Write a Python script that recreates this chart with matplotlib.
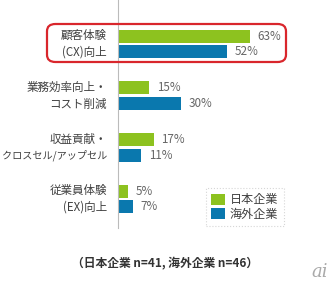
import matplotlib
matplotlib.use("Agg")
import matplotlib.pyplot as plt
from matplotlib.patches import FancyBboxPatch, Patch

plt.rcParams['font.family'] = ['Noto Sans CJK JP', 'DejaVu Sans']

categories = ["顧客体験\n(CX)向上", "業務効率向上・\nコスト削減", "収益貢献・\nクロスセル/アップセル", "従業員体験\n(EX)向上"]
japan = [63, 15, 17, 5]
overseas = [52, 30, 11, 7]
series_names = ["日本企業", "海外企業"]
footer = "（日本企業 n=41, 海外企業 n=46）"

GREEN = "#8DC21F"
BLUE = "#0A78AE"
TEXT = "#404040"

W, H = 336, 290
fig = plt.figure(figsize=(W/100, H/100), dpi=100)
fig.patch.set_facecolor("white")

def fx(px): return px / W
def fy(py): return 1 - py / H

# axes: x from 118px to 330px, y from 0 to 228px
ax = fig.add_axes([fx(118), fy(228), fx(330) - fx(118), fy(0) - fy(228)])
ax.set_xlim(0, (330 - 118) / 2.09)
ax.set_ylim(3.56, -0.85)

pos = list(range(len(categories)))
h = 0.25
off = 0.152
ax.barh([p - off for p in pos], japan, height=h, color=GREEN)
ax.barh([p + off for p in pos], overseas, height=h, color=BLUE)

for p, v in zip(pos, japan):
    ax.annotate(f"{v}%", (v, p - off), xytext=(5.5, 0), textcoords="offset points",
                va="center", ha="left", fontsize=8.4, color="#666666")
for p, v in zip(pos, overseas):
    ax.annotate(f"{v}%", (v, p + off), xytext=(5.5, 0), textcoords="offset points",
                va="center", ha="left", fontsize=8.4, color="#666666")

for p, c in zip(pos, categories):
    lines = c.split("\n")
    for i, line in enumerate(lines):
        dy = 6.0 if i == 0 else -6.0
        fs = 8.3 if len(line) <= 8 else 7.3
        ax.annotate(line, (0, p), xytext=(-8, dy), textcoords="offset points",
                    va="center", ha="right", fontsize=fs, color=TEXT)

for s in ["top", "right", "bottom"]:
    ax.spines[s].set_visible(False)
ax.spines["left"].set_color("#BBBBBB")
ax.spines["left"].set_linewidth(0.8)
ax.set_xticks([])
ax.set_yticks([])
ax.patch.set_alpha(0)

# red highlight box
box = FancyBboxPatch((fx(47), fy(62)), fx(286) - fx(47), fy(24) - fy(62),
                     boxstyle="round,pad=0,rounding_size=0.025",
                     transform=fig.transFigure, fill=False,
                     edgecolor="#D9262C", linewidth=1.6)
fig.patches.append(box)

handles = [Patch(facecolor=GREEN, label=series_names[0]),
           Patch(facecolor=BLUE, label=series_names[1])]
leg = fig.legend(handles=handles, loc="upper left",
                 bbox_to_anchor=(fx(206), fy(188)), frameon=True,
                 fontsize=8.7, handlelength=1.1, handleheight=1.1,
                 handletextpad=0.4, borderpad=0.45, labelspacing=0.1,
                 fancybox=False, borderaxespad=0)
leg.get_frame().set_edgecolor("#CCCCCC")
leg.get_frame().set_linestyle(":")
leg.get_frame().set_linewidth(0.8)
for t in leg.get_texts():
    t.set_color(TEXT)

fig.text(fx(165), fy(264), footer, ha="center", va="center",
         fontsize=8.5, color="#333333", fontweight="bold")

fig.text(fx(320), fy(272), "ai", ha="center", va="center", fontsize=13,
         color="#AAAAAA", style="italic", family="DejaVu Serif")

fig.savefig("out.png", dpi=100, facecolor="white")
